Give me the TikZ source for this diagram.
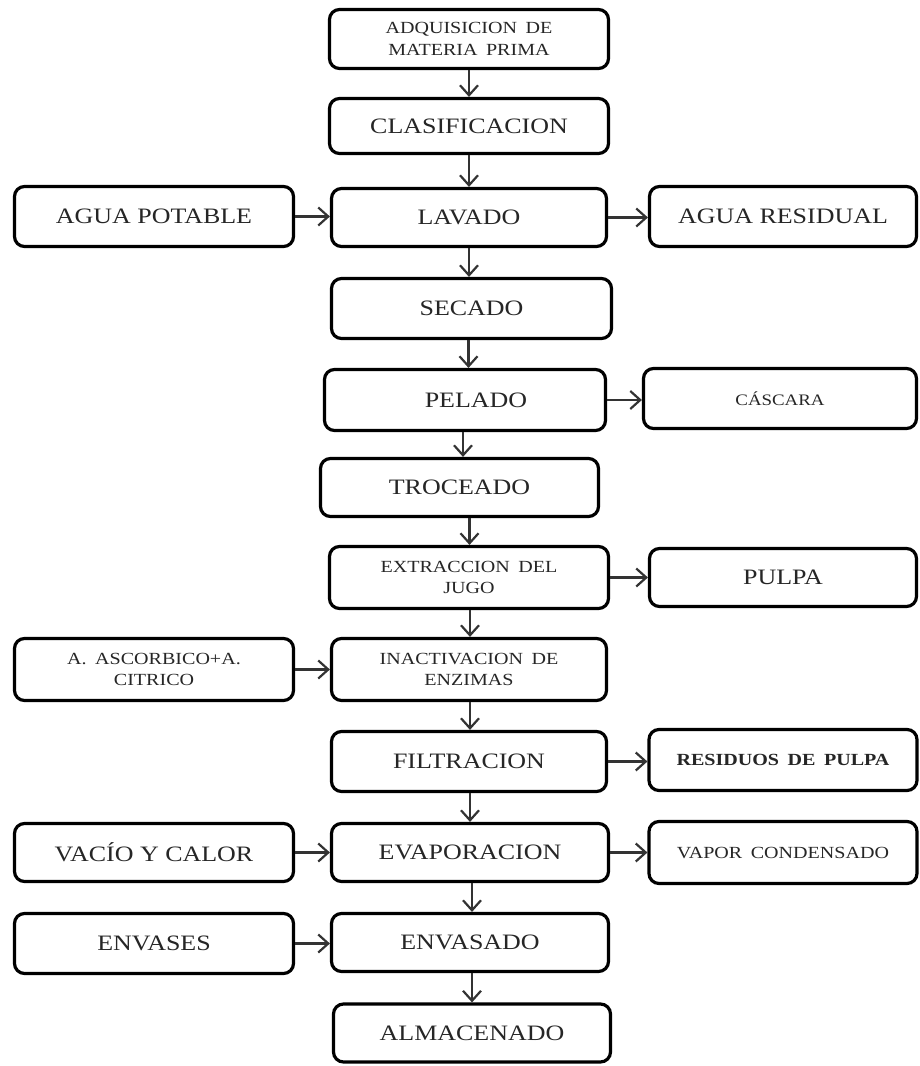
\documentclass[tikz,border=0pt]{standalone}
\usepackage{fontspec}
\setmainfont{Liberation Serif}[FakeStretch=1.18]
\newfontfamily\smallfam{Liberation Serif}[FakeStretch=1.18,WordSpace=1.7]
\usetikzlibrary{arrows.meta}
\begin{document}
\begin{tikzpicture}[x=1pt,y=-1pt,
  box/.style={draw=black, line width=3.2pt, rounded corners=10pt, fill=white, align=center, inner sep=0pt, text=black!85},
  big/.style={font=\fontsize{22}{26}\selectfont},
  small/.style={font=\smallfam\fontsize{17}{21.5}\selectfont},
  tiny/.style={font=\fontsize{16}{21}\selectfont},
  arr/.style={draw=black!80, line width=2.2pt, -{Straight Barb[length=10pt,width=18pt]}}]
\useasboundingbox[fill=white] (0,0) rectangle (919,1066);

% central column
\node[box,small,minimum width=279pt,minimum height=59pt] (adq) at (469,39) {ADQUISICION DE\\MATERIA PRIMA};
\node[box,big,minimum width=279pt,minimum height=55pt] (clas) at (469,126) {CLASIFICACION};
\node[box,big,minimum width=275pt,minimum height=58pt] (lav) at (469,217.5) {LAVADO};
\node[box,big,minimum width=280pt,minimum height=60pt] (sec) at (471.5,308.5) {SECADO};
\node[box,big,minimum width=281pt,minimum height=61pt] (pel) at (465,400) {\hspace*{22pt}PELADO};
\node[box,big,minimum width=278pt,minimum height=58pt] (tro) at (459.5,487.5) {TROCEADO};
\node[box,small,minimum width=279pt,minimum height=62pt] (ext) at (469,577.5) {EXTRACCION DEL\\JUGO};
\node[box,small,minimum width=275pt,minimum height=62pt] (ina) at (469,669.5) {INACTIVACION DE\\ENZIMAS};
\node[box,big,minimum width=275pt,minimum height=60pt] (fil) at (469,761.5) {FILTRACION};
\node[box,big,minimum width=277pt,minimum height=58pt] (eva) at (470,852.5) {EVAPORACION};
\node[box,big,minimum width=277pt,minimum height=58pt] (env) at (470,942.5) {ENVASADO};
\node[box,big,minimum width=277pt,minimum height=58pt] (alm) at (472,1033) {ALMACENADO};

% left column
\node[box,big,minimum width=279pt,minimum height=60pt] (agp) at (154,216.5) {AGUA POTABLE};
\node[box,small,minimum width=279pt,minimum height=62pt] (asc) at (154,669.5) {A. ASCORBICO+A.\\CITRICO};
\node[box,big,minimum width=279pt,minimum height=58pt] (vac) at (154,852.5) {VACÍO Y CALOR};
\node[box,big,minimum width=279pt,minimum height=60pt] (evs) at (154,943.5) {ENVASES};

% right column
\node[box,big,minimum width=267pt,minimum height=60pt] (agr) at (783,216.5) {AGUA RESIDUAL};
\node[box,tiny,minimum width=273pt,minimum height=60pt] (cas) at (780,398.5) {CÁSCARA};
\node[box,big,minimum width=267pt,minimum height=58pt] (pul) at (783,577.5) {PULPA};
\node[box,small,minimum width=268pt,minimum height=61pt] (res) at (783,760) {\bfseries RESIDUOS DE PULPA};
\node[box,small,minimum width=268pt,minimum height=62pt] (vap) at (783,852.5) {VAPOR CONDENSADO};

% vertical arrows
\draw[arr] (adq.south) -- (adq.south |- clas.north);
\draw[arr] (clas.south) -- (clas.south |- lav.north);
\draw[arr] (lav.south) -- (lav.south |- sec.north);
\draw[arr] ([xshift=-3pt]sec.south) -- ([xshift=-3pt]sec.south |- pel.north);
\draw[arr] ([xshift=-2pt]pel.south) -- ([xshift=-2pt]pel.south |- tro.north);
\draw[arr] ([xshift=10pt]tro.south) -- ([xshift=10pt]tro.south |- ext.north);
\draw[arr] ([xshift=1pt]ext.south) -- ([xshift=1pt]ext.south |- ina.north);
\draw[arr] ([xshift=1pt]ina.south) -- ([xshift=1pt]ina.south |- fil.north);
\draw[arr] ([xshift=1pt]fil.south) -- ([xshift=1pt]fil.south |- eva.north);
\draw[arr] ([xshift=2pt]eva.south) -- ([xshift=2pt]eva.south |- env.north);
\draw[arr] ([xshift=2pt]env.south) -- ([xshift=2pt]env.south |- alm.north);

% horizontal arrows
\draw[arr] (agp.east) -- (agp.east -| lav.west);
\draw[arr] (lav.east) -- (lav.east -| agr.west);
\draw[arr] (pel.east) -- (pel.east -| cas.west);
\draw[arr] (ext.east) -- (ext.east -| pul.west);
\draw[arr] (asc.east) -- (asc.east -| ina.west);
\draw[arr] (fil.east) -- (fil.east -| res.west);
\draw[arr] (vac.east) -- (vac.east -| eva.west);
\draw[arr] (eva.east) -- (eva.east -| vap.west);
\draw[arr] (evs.east) -- (evs.east -| env.west);
\end{tikzpicture}
\end{document}
